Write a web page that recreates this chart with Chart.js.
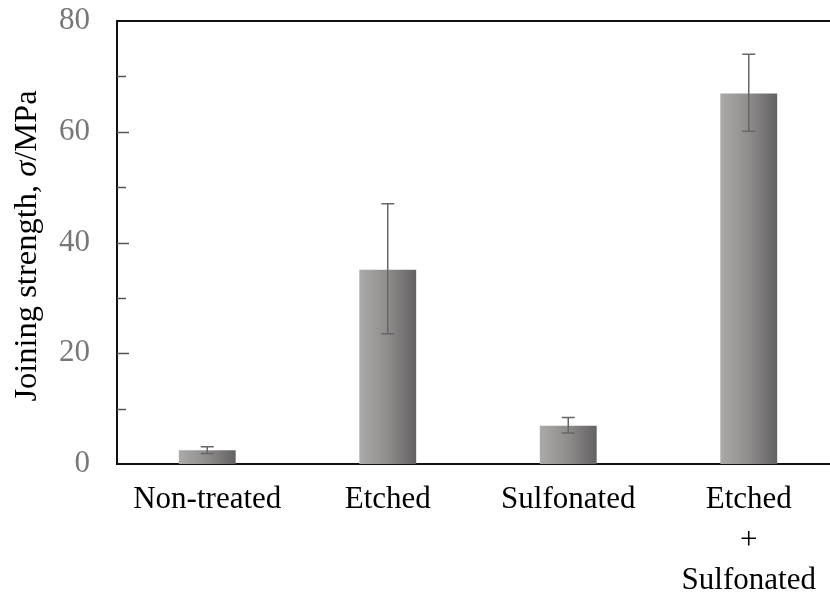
<!DOCTYPE html>
<html>
<head>
<meta charset="utf-8">
<script src="https://cdn.jsdelivr.net/npm/chart.js@4/dist/chart.umd.min.js"></script>
<style>
  html, body { margin: 0; padding: 0; background: #fff; overflow: hidden; }
  #wrap { width: 840px; height: 596px; }
</style>
</head>
<body>
<div id="wrap"><canvas id="c" width="840" height="596"></canvas></div>
<script>
// ---- data ----
const categories = [['Non-treated'], ['Etched'], ['Sulfonated'], ['Etched', '+', 'Sulfonated']];
const strengthMean = [2.5, 35.1, 6.9, 66.9];
const errorLow = [1.9, 23.5, 5.6, 60.1];
const errorHigh = [3.1, 47.0, 8.4, 74.0];
const majorTicks = [0, 20, 40, 60, 80];
const minorTicks = [10, 30, 50, 70];
const yTitleParts = [['Joining strength, ', false], ['σ', true], ['/MPa', false]];

const FONT = '"Liberation Serif", "Times New Roman", serif';
const FS = 31;
const TITLE_FS = 32.5;
const BAR_FRAC = 0.315;

const barGradient = (ctx) => {
  const chart = ctx.chart;
  const area = chart.chartArea;
  if (!area || ctx.type !== 'data' || !chart.scales.x) return '#8a8887';
  const xs = chart.scales.x;
  const cx = xs.getPixelForValue(ctx.dataIndex);
  const w = (area.right - area.left) / categories.length * BAR_FRAC;
  const g = chart.ctx.createLinearGradient(cx - w / 2, 0, cx + w / 2, 0);
  g.addColorStop(0, '#acaaa9');
  g.addColorStop(0.5, '#8f8d8c');
  g.addColorStop(1, '#636161');
  return g;
};

const decor = {
  id: 'decor',
  afterDatasetsDraw(chart) {
    const c = chart.ctx, a = chart.chartArea, xs = chart.scales.x, ys = chart.scales.y;
    c.save();
    // error bars
    c.strokeStyle = '#666';
    c.lineWidth = 1.5;
    for (let i = 0; i < strengthMean.length; i++) {
      const x = xs.getPixelForValue(i);
      const yl = ys.getPixelForValue(errorLow[i]);
      const yh = ys.getPixelForValue(errorHigh[i]);
      c.beginPath();
      c.moveTo(x, yl); c.lineTo(x, yh);
      c.moveTo(x - 6.5, yl); c.lineTo(x + 6.5, yl);
      c.moveTo(x - 6.5, yh); c.lineTo(x + 6.5, yh);
      c.stroke();
    }
    // inside tick marks
    c.strokeStyle = '#555';
    c.lineWidth = 1.5;
    majorTicks.forEach(v => {
      if (v === 0 || v === 80) return;
      const y = Math.round(ys.getPixelForValue(v)) + 0.5;
      c.beginPath(); c.moveTo(a.left, y); c.lineTo(a.left + 12, y); c.stroke();
    });
    minorTicks.forEach(v => {
      const y = Math.round(ys.getPixelForValue(v)) + 0.5;
      c.beginPath(); c.moveTo(a.left, y); c.lineTo(a.left + 9, y); c.stroke();
    });
    // top frame line
    c.strokeStyle = '#111';
    c.lineWidth = 2;
    c.beginPath(); c.moveTo(a.left - 1, a.top); c.lineTo(chart.width, a.top); c.stroke();
    // y title
    c.fillStyle = '#000';
    c.textBaseline = 'alphabetic';
    c.textAlign = 'left';
    let total = 0;
    const widths = yTitleParts.map(([t, it]) => {
      c.font = (it ? 'italic ' : '') + TITLE_FS + 'px ' + FONT;
      const w = c.measureText(t).width; total += w; return w;
    });
    c.translate(36, 246);
    c.rotate(-Math.PI / 2);
    let px = -total / 2;
    yTitleParts.forEach(([t, it], i) => {
      c.font = (it ? 'italic ' : '') + TITLE_FS + 'px ' + FONT;
      c.fillText(t, px, 0);
      px += widths[i];
    });
    c.restore();
  }
};

new Chart(document.getElementById('c'), {
  type: 'bar',
  data: {
    labels: categories,
    datasets: [{
      data: strengthMean,
      backgroundColor: barGradient,
      borderWidth: 0,
      categoryPercentage: 1,
      barPercentage: BAR_FRAC
    }]
  },
  options: {
    responsive: false,
    animation: false,
    events: [],
    layout: { padding: { top: 21, right: 1, left: 0, bottom: 0 } },
    plugins: { legend: { display: false }, tooltip: { enabled: false } },
    scales: {
      x: {
        grid: { display: false },
        border: { display: true, color: '#111', width: 2 },
        ticks: {
          color: '#000',
          font: { family: FONT, size: FS, lineHeight: 1.32 },
          padding: 7,
          maxRotation: 0,
          autoSkip: false
        },
        afterFit: s => { s.height = 132; s.paddingLeft = 0; s.paddingRight = 0; }
      },
      y: {
        min: 0, max: 80,
        grid: { display: false },
        border: { display: true, color: '#111', width: 2 },
        ticks: {
          stepSize: 20,
          color: '#777',
          font: { family: FONT, size: FS },
          padding: 19
        },
        afterFit: s => { s.width = 117; s.paddingTop = 0; s.paddingBottom = 0; }
      }
    }
  },
  plugins: [decor]
});
</script>
</body>
</html>
